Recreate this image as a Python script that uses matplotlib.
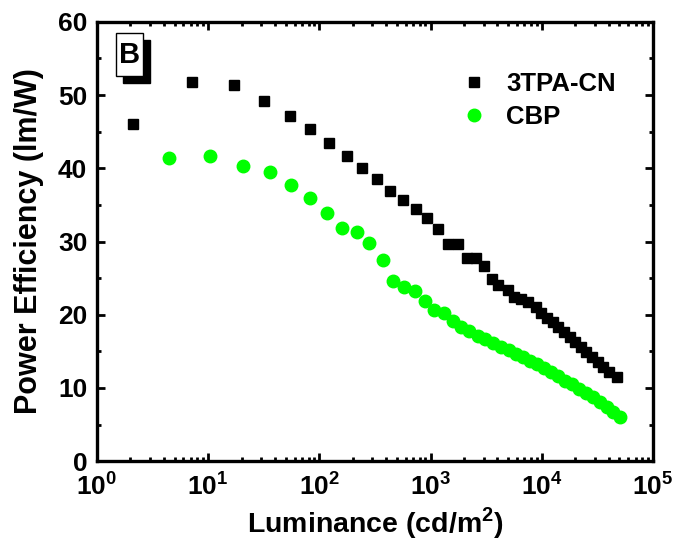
import matplotlib
matplotlib.use("Agg")
import math
import matplotlib.pyplot as plt
from matplotlib.ticker import FixedLocator, FuncFormatter, LogLocator, MultipleLocator
from matplotlib.patches import Rectangle

# datos
tpa_lum = [2.1, 7.2, 17.1, 32, 54, 83, 123, 179, 244, 333, 436, 571, 733, 939, 1156,
           1423, 1750, 2110, 2540, 3000, 3550, 4020, 4940, 5590, 6470, 7480, 8830, 9800,
           11100, 12600, 13900, 15800, 17900, 19800, 22400, 24900, 28200, 32000, 35400,
           40200, 47400]
tpa_pe = [46.1, 51.8, 51.4, 49.2, 47.1, 45.4, 43.4, 41.7, 40.0, 38.5, 36.9, 35.7, 34.4,
          33.2, 31.7, 29.7, 29.7, 27.7, 27.7, 26.6, 24.9, 24.0, 23.4, 22.4, 22.1, 21.7,
          21.0, 20.2, 19.5, 19.0, 18.3, 17.6, 16.9, 16.3, 15.6, 14.9, 14.2, 13.5, 12.8,
          12.2, 11.5]

cbp_lum = [4.45, 10.4, 20.7, 36.2, 56, 83, 118, 161, 220, 282, 370, 464, 583, 718, 883,
           1064, 1310, 1578, 1862, 2200, 2650, 3060, 3620, 4270, 5040, 5830, 6740, 7800,
           9020, 10400, 12100, 13900, 16100, 18600, 21500, 24900, 28800, 33300, 38500,
           43600, 50400]
cbp_pe = [41.4, 41.7, 40.3, 39.5, 37.7, 35.9, 33.9, 31.8, 31.3, 29.8, 27.5, 24.6, 23.8,
          23.2, 21.9, 20.6, 20.2, 19.2, 18.3, 17.8, 17.1, 16.7, 16.1, 15.6, 15.2, 14.7,
          14.2, 13.7, 13.2, 12.7, 12.2, 11.6, 11.0, 10.5, 9.9, 9.3, 8.7, 8.1, 7.4, 6.7,
          6.0]

x_ticks = [1, 10, 100, 1000, 10000, 100000]
y_ticks = [0, 10, 20, 30, 40, 50, 60]

plt.rcParams['font.family'] = ['Liberation Sans', 'DejaVu Sans']
plt.rcParams['font.weight'] = 'bold'
plt.rcParams['mathtext.fontset'] = 'custom'
plt.rcParams['mathtext.rm'] = 'Liberation Sans:bold'
plt.rcParams['mathtext.bf'] = 'Liberation Sans:bold'

fig = plt.figure(figsize=(6.78, 5.47), dpi=100)
ax = fig.add_axes([0.143, 0.157, 0.820, 0.803])

ax.plot(tpa_lum, tpa_pe, linestyle='none', marker='s', markersize=7.5,
        color='black', label='3TPA-CN', zorder=3)
ax.plot(cbp_lum, cbp_pe, linestyle='none', marker='o', markersize=9,
        color='#00ff00', label='CBP', zorder=2)

ax.set_xscale('log')
ax.set_xlim(1, 1e5)
ax.set_ylim(0, 60)

ax.xaxis.set_major_locator(FixedLocator(x_ticks))
ax.xaxis.set_major_formatter(FuncFormatter(lambda v, p: r'$\mathbf{10^{%d}}$' % round(math.log10(v))))
ax.xaxis.set_minor_locator(LogLocator(base=10, subs=range(2, 10)))
ax.yaxis.set_major_locator(FixedLocator(y_ticks))
ax.yaxis.set_minor_locator(MultipleLocator(5))

for s in ax.spines.values():
    s.set_linewidth(2.4)

ax.tick_params(which='both', direction='in', top=True, right=True, width=2)
ax.tick_params(which='major', length=6)
ax.tick_params(which='minor', length=3)
ax.tick_params(axis='x', which='major', labelsize=19, pad=9)
ax.tick_params(axis='y', which='major', labelsize=19, pad=7)

ax.set_xlabel(r'Luminance (cd/m$^\mathbf{2}$)', fontsize=20.5, fontweight='bold', labelpad=3)
ax.set_ylabel('Power Efficiency (lm/W)', fontsize=22, fontweight='bold', labelpad=10)

ax.legend(loc='upper left', bbox_to_anchor=(0.655, 0.885), frameon=False,
          fontsize=18.5, handlelength=1.0, handletextpad=0.75, labelspacing=0.35,
          borderpad=0, borderaxespad=0)

# etiqueta B con sombra
ax.add_patch(Rectangle((0.047, 0.861), 0.0486, 0.098, transform=ax.transAxes,
                       facecolor='black', edgecolor='black', zorder=5, clip_on=False))
ax.add_patch(Rectangle((0.0342, 0.877), 0.0486, 0.098, transform=ax.transAxes,
                       facecolor='white', edgecolor='black', linewidth=1, zorder=6,
                       clip_on=False))
ax.text(0.0585, 0.924, 'B', transform=ax.transAxes, fontsize=21, fontweight='bold',
        ha='center', va='center', color='black', zorder=7)

fig.savefig('out.png', dpi=100)
